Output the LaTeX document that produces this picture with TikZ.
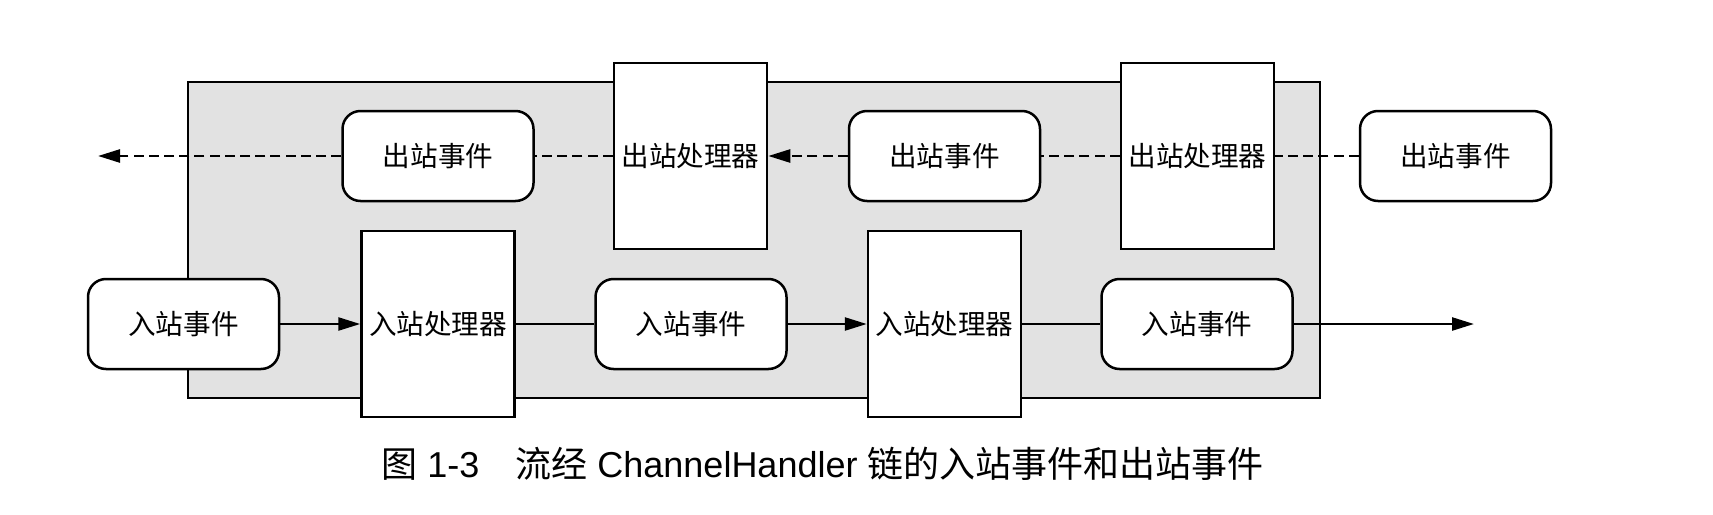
\documentclass[tikz,border=0pt]{standalone}
\usepackage{fontspec}
\setmainfont{Liberation Sans}
\newfontfamily\cjk{Noto Sans CJK SC}
\usetikzlibrary{arrows.meta}
\definecolor{chainfill}{RGB}{226,226,226}
\begin{document}
\begin{tikzpicture}[x=0.5pt,y=-0.5pt,
  box/.style={draw=black, line width=1.25pt, fill=white, inner sep=0pt,
    font=\cjk\fontsize{13.8}{16}\selectfont},
  evt/.style={box, rounded corners=9pt, minimum width=95.5pt, minimum height=45pt},
  proc/.style={box, minimum width=76.5pt, minimum height=93pt},
  chain/.style={draw=black, line width=1.25pt, fill=chainfill, inner sep=0pt,
    minimum width=566pt, minimum height=158pt},
  conn/.style={line width=1.25pt, draw=black},
  arr/.style={-{Triangle[length=11pt,width=6.5pt]}},
  dsh/.style={dash pattern=on 5pt off 2.6pt}
]
\useasboundingbox (0,0) rectangle (1713,514);
\fill[white] (0,0) rectangle (1713,514);
\node[chain] (pipe) at (754,240) {};
% outbound row
\node[evt]  (oe1) at (438,156)    {出站事件};
\node[proc] (op1) at (690.5,156)  {出站处理器};
\node[evt]  (oe2) at (944.5,156)  {出站事件};
\node[proc] (op2) at (1197.5,156) {出站处理器};
\node[evt]  (oe3) at (1455.5,156) {出站事件};
% inbound row
\node[evt]  (ie1) at (183.5,324)  {入站事件};
\node[proc] (ip1) at (438,324)    {入站处理器};
\node[evt]  (ie2) at (691,324)    {入站事件};
\node[proc] (ip2) at (944.5,324)  {入站处理器};
\node[evt]  (ie3) at (1197,324)   {入站事件};
\coordinate (outend) at (98,156);
\coordinate (inend) at (1474,324);
% outbound connectors
\draw[conn,dsh,arr] (oe1.west) -- (outend);
\draw[conn,dsh] (op1.west) -- (oe1.east);
\draw[conn,dsh,arr] (oe2.west) -- (op1.east);
\draw[conn,dsh] (op2.west) -- (oe2.east);
\draw[conn,dsh] (oe3.west) -- (op2.east);
% inbound connectors
\draw[conn,arr] (ie1.east) -- (ip1.west);
\draw[conn] (ip1.east) -- (ie2.west);
\draw[conn,arr] (ie2.east) -- (ip2.west);
\draw[conn] (ip2.east) -- (ie3.west);
\draw[conn,arr] (ie3.east) -- (inend);
% caption
\node[anchor=base west, inner sep=0pt, font=\fontsize{18}{22}\selectfont] (cap) at (381,477)
  {{\cjk 图} 1-3\quad{\cjk 流经} ChannelHandler {\cjk 链的入站事件和出站事件}};
\end{tikzpicture}
\end{document}
